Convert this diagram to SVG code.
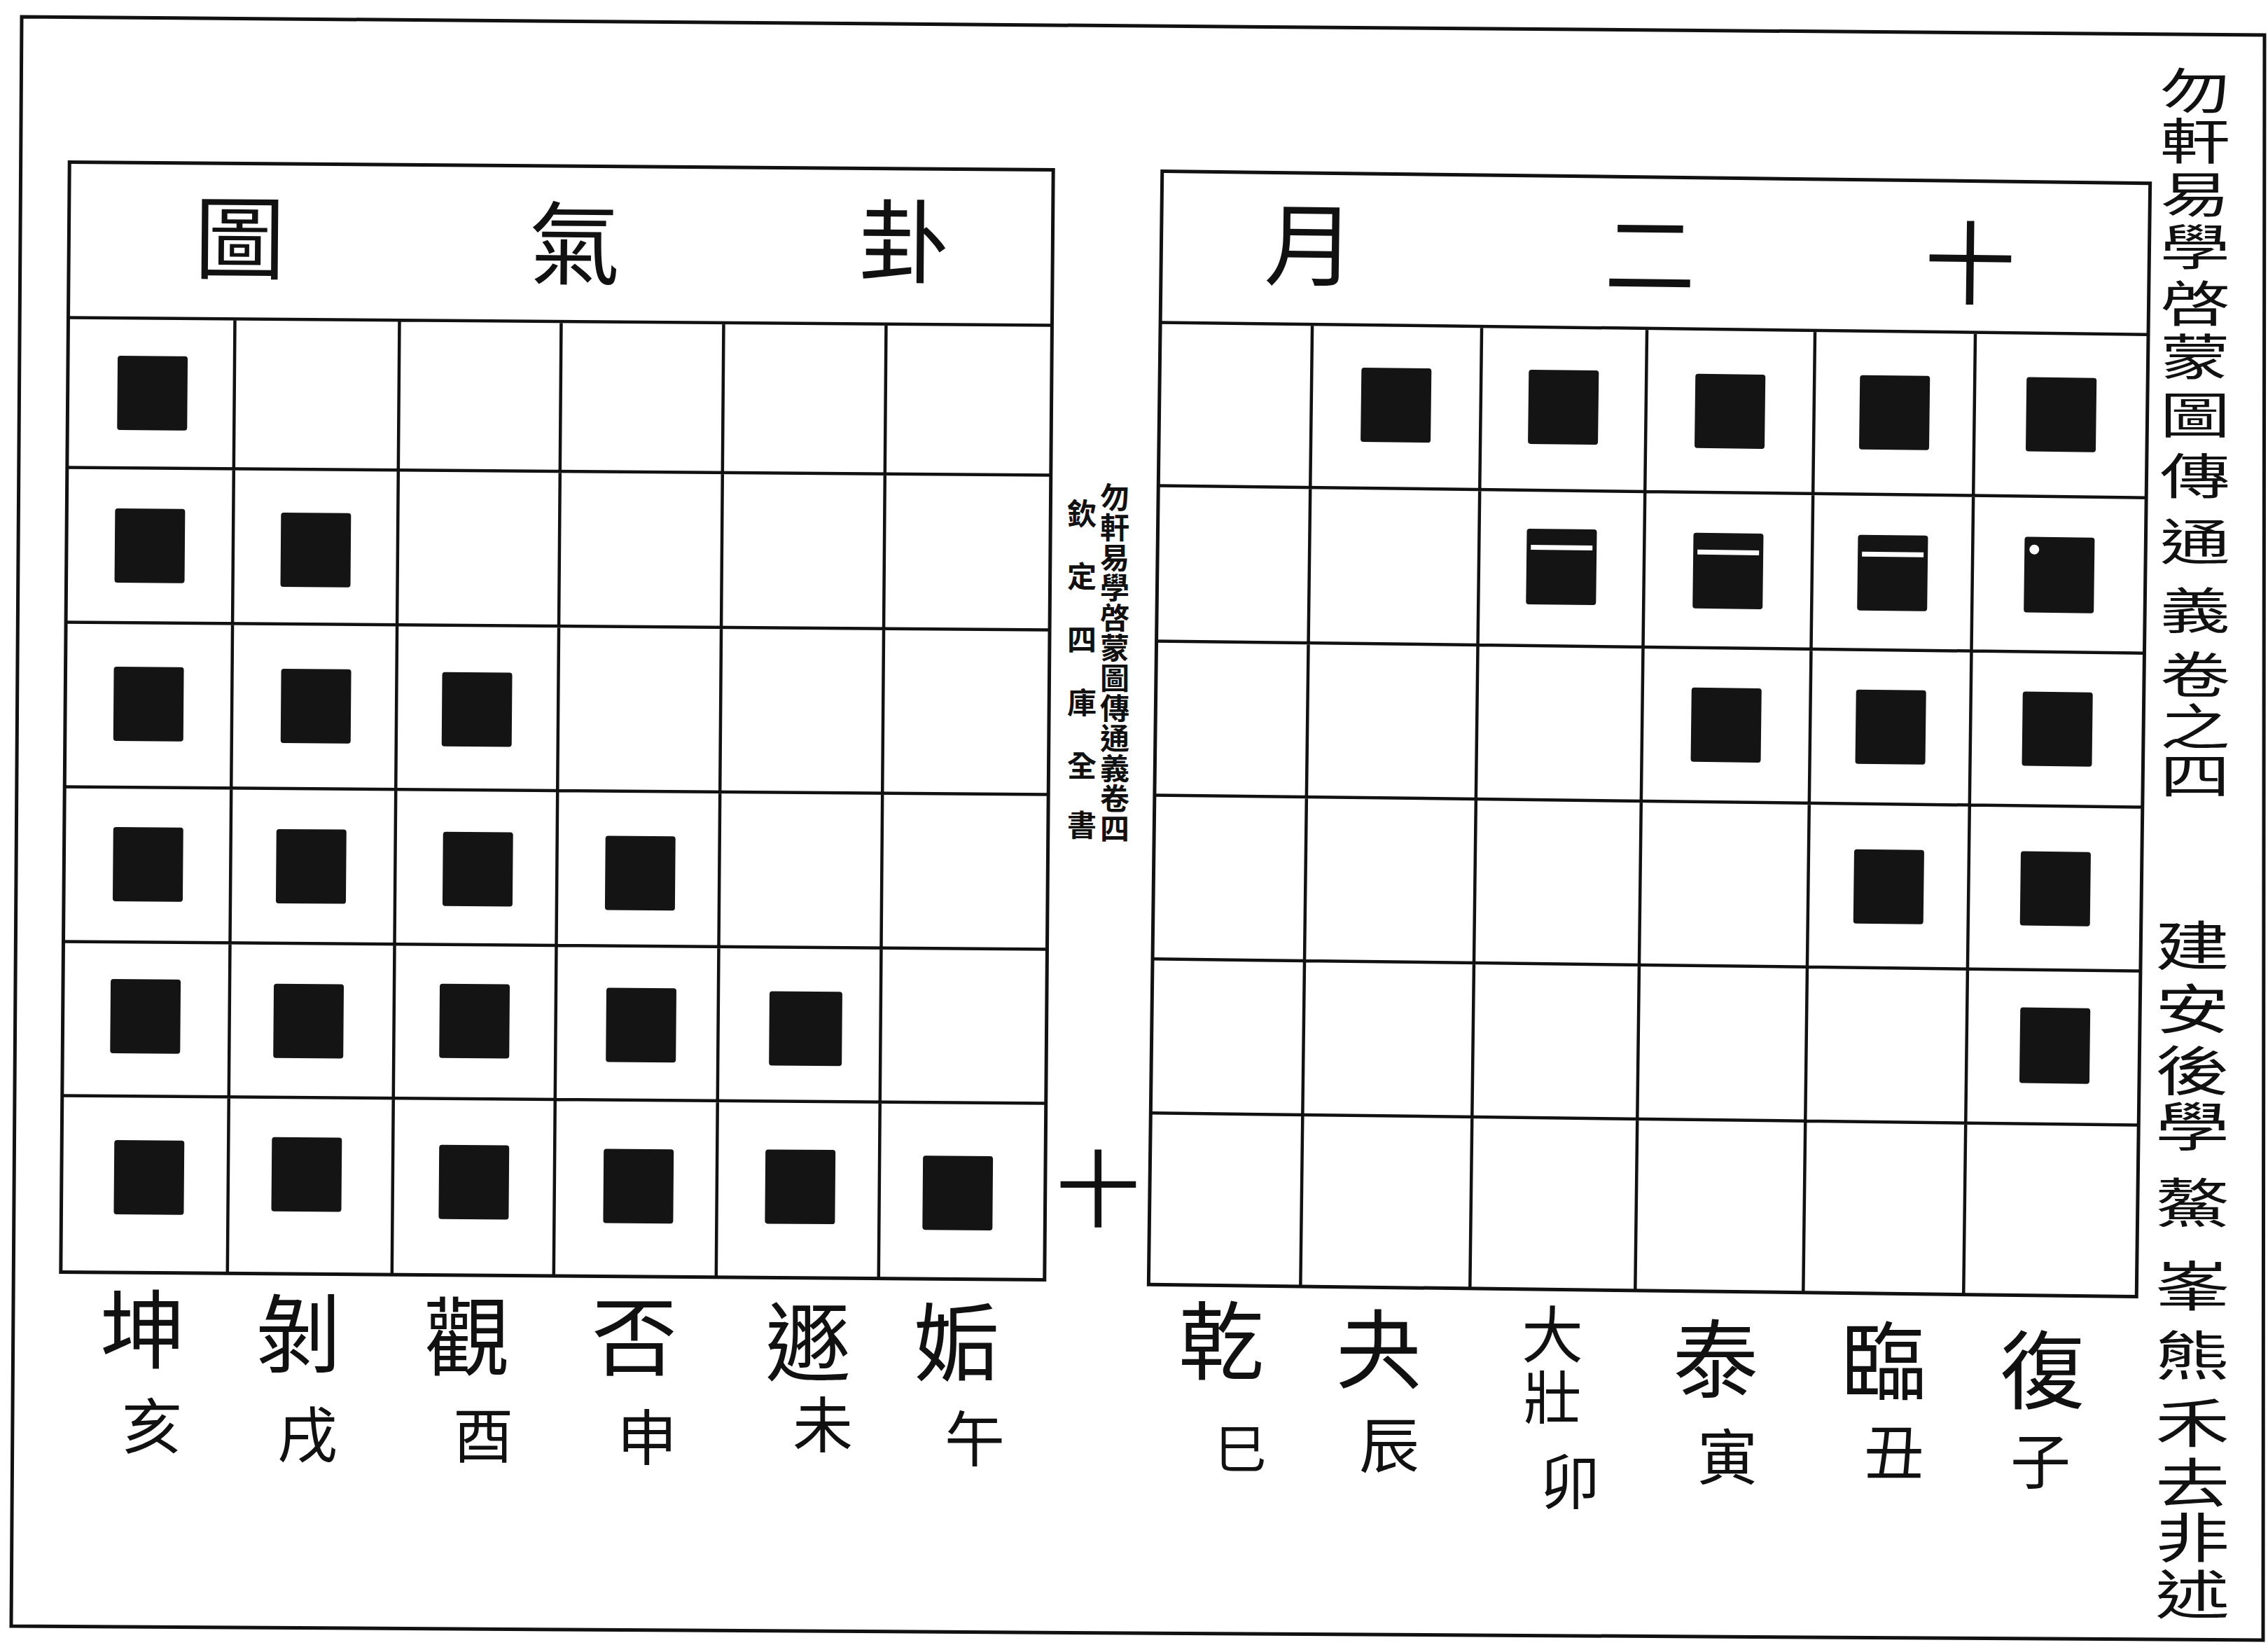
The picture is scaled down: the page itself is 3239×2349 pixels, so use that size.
<svg xmlns="http://www.w3.org/2000/svg" width="3239" height="2349" viewBox="0 0 3239 2349">
<style>
.ln{stroke:#111;stroke-width:4.5;fill:none}
.bd{stroke:#111;stroke-width:5;fill:none}
.sq{fill:#141414}
.w{fill:#fff}
.t{font-family:"Liberation Serif","Noto Sans CJK TC",serif;fill:#111;text-anchor:middle;dominant-baseline:central}
.h{font-size:130px}
.g1{font-size:122px}
.g2{font-size:86px}
.v{font-size:88px}
.c{font-size:42px;font-weight:bold}
</style>
<rect x="0" y="0" width="3239" height="2349" fill="#fff"/>
<g id="page-frame">
<path class="bd" d="M31,24 L3234,50 L3232,2342 L16,2322 Z"/>
</g>

<g id="left-table" transform="rotate(0.45 795 1030)">
<g id="left-grid">
<rect class="bd" x="93" y="237" width="1405" height="1585"/>
<path class="ln" d="M93,459H1498M93,673H1498M93,894H1498M93,1129H1498M93,1350H1498M93,1570H1498M331,459V1822M566,459V1822M797,459V1822M1029,459V1822M1261,459V1822"/>
</g>
<g id="left-title">
<text class="t h" x="337" y="348">圖</text>
<text class="t h" x="815" y="352">氣</text>
<text class="t h" x="1286" y="346">卦</text>
</g>
<g id="left-squares">
<rect class="sq" x="164" y="513" width="100" height="106" rx="4"/>
<rect class="sq" x="162" y="731" width="100" height="106" rx="4"/>
<rect class="sq" x="399" y="735" width="100" height="106" rx="4"/>
<rect class="sq" x="162" y="957" width="100" height="106" rx="4"/>
<rect class="sq" x="401" y="958" width="100" height="106" rx="4"/>
<rect class="sq" x="631" y="961" width="100" height="106" rx="4"/>
<rect class="sq" x="163" y="1186" width="100" height="106" rx="4"/>
<rect class="sq" x="396" y="1187" width="100" height="106" rx="4"/>
<rect class="sq" x="634" y="1189" width="100" height="106" rx="4"/>
<rect class="sq" x="866" y="1193" width="100" height="106" rx="4"/>
<rect class="sq" x="161" y="1403" width="100" height="106" rx="4"/>
<rect class="sq" x="394" y="1408" width="100" height="106" rx="4"/>
<rect class="sq" x="631" y="1406" width="100" height="106" rx="4"/>
<rect class="sq" x="869" y="1410" width="100" height="106" rx="4"/>
<rect class="sq" x="1102" y="1413" width="104" height="106" rx="4"/>
<rect class="sq" x="168" y="1633" width="100" height="106" rx="4"/>
<rect class="sq" x="393" y="1627" width="100" height="106" rx="4"/>
<rect class="sq" x="632" y="1636" width="100" height="106" rx="4"/>
<rect class="sq" x="867" y="1640" width="100" height="106" rx="4"/>
<rect class="sq" x="1098" y="1639" width="100" height="106" rx="4"/>
<rect class="sq" x="1323" y="1646" width="100" height="106" rx="4"/>
</g>
</g>

<g id="left-labels">
<text class="t g1" x="204" y="1902">坤</text>
<text class="t g1" x="426" y="1908">剝</text>
<text class="t g1" x="667" y="1912">觀</text>
<text class="t g1" x="906" y="1912">否</text>
<text class="t g1" x="1154" y="1920">遯</text>
<text class="t g1" x="1366" y="1920">姤</text>
<text class="t g2" x="217" y="2040">亥</text>
<text class="t g2" x="439" y="2052">戌</text>
<text class="t g2" x="690" y="2053">酉</text>
<text class="t g2" x="924" y="2056">申</text>
<text class="t g2" x="1175" y="2038">未</text>
<text class="t g2" x="1392" y="2058">午</text>
</g>

<g id="center-margin">
<text class="t c"><tspan x="1545" y="735">欽</tspan><tspan x="1545" y="825">定</tspan><tspan x="1545" y="915">四</tspan><tspan x="1545" y="1005">庫</tspan><tspan x="1545" y="1095">全</tspan><tspan x="1545" y="1180">書</tspan></text>
<text class="t c"><tspan x="1592" y="712">勿</tspan><tspan x="1592" y="755">軒</tspan><tspan x="1592" y="798">易</tspan><tspan x="1592" y="841">學</tspan><tspan x="1592" y="884">啓</tspan><tspan x="1592" y="927">蒙</tspan><tspan x="1592" y="970">圖</tspan><tspan x="1592" y="1013">傳</tspan><tspan x="1592" y="1056">通</tspan><tspan x="1592" y="1099">義</tspan><tspan x="1592" y="1142">卷</tspan><tspan x="1592" y="1185">四</tspan></text>
<text class="t" x="1568" y="1702" style="font-size:120px">十</text>
</g>

<g id="right-table" transform="rotate(0.7 2355 1048)">
<g id="right-grid">
<rect class="bd" x="1650" y="253" width="1411" height="1590"/>
<path class="ln" d="M1650,469H3061M1650,702H3061M1650,924H3061M1650,1144H3061M1650,1378H3061M1650,1598H3061M1867,469V1843M2109,469V1843M2345,469V1843M2585,469V1843M2814,469V1843"/>
</g>
<g id="right-title">
<text class="t h" x="1862" y="360">月</text>
<text class="t h" x="2348" y="368">二</text>
<text class="t h" x="2805" y="375">十</text>
</g>
<g id="right-squares">
<rect class="sq" x="1938" y="530" width="100" height="106" rx="4"/>
<rect class="sq" x="2177" y="530" width="100" height="106" rx="4"/>
<rect class="sq" x="2415" y="533" width="100" height="106" rx="4"/>
<rect class="sq" x="2650" y="532" width="100" height="106" rx="4"/>
<rect class="sq" x="2888" y="532" width="100" height="106" rx="4"/>
<rect class="sq" x="2177" y="757" width="100" height="108" rx="4"/>
<rect class="sq" x="2415" y="760" width="100" height="108" rx="4"/>
<rect class="sq" x="2650" y="760" width="100" height="108" rx="4"/>
<rect class="sq" x="2888" y="760" width="100" height="108" rx="4"/>
<rect class="w" x="2183" y="780" width="88" height="7"/>
<rect class="w" x="2421" y="784" width="88" height="7"/>
<rect class="w" x="2656" y="784" width="88" height="7"/>
<circle class="w" cx="2902" cy="778" r="7"/>
<rect class="sq" x="2415" y="981" width="100" height="106" rx="4"/>
<rect class="sq" x="2650" y="981" width="100" height="106" rx="4"/>
<rect class="sq" x="2888" y="981" width="100" height="106" rx="4"/>
<rect class="sq" x="2650" y="1209" width="100" height="106" rx="4"/>
<rect class="sq" x="2888" y="1209" width="100" height="106" rx="4"/>
<rect class="sq" x="2890" y="1432" width="100" height="108" rx="4"/>
</g>
</g>

<g id="right-labels">
<text class="t g1" x="1744" y="1918">乾</text>
<text class="t g1" x="1969" y="1930">夬</text>
<text class="t" x="2217" y="1908" style="font-size:88px">大</text>
<text class="t" x="2217" y="1998" style="font-size:82px">壯</text>
<text class="t g1" x="2450" y="1944">泰</text>
<text class="t g1" x="2690" y="1947">臨</text>
<text class="t g1" x="2917" y="1960">復</text>
<text class="t" x="1772" y="2071" style="font-size:74px">巳</text>
<text class="t g2" x="1984" y="2067">辰</text>
<text class="t g2" x="2242" y="2119">卯</text>
<text class="t g2" x="2467" y="2084">寅</text>
<text class="t g2" x="2705" y="2077">丑</text>
<text class="t g2" x="2914" y="2090">子</text>
</g>

<g id="book-title" transform="matrix(1.14,0,0,0.8,3135,0)">
<text class="t v"><tspan x="0" y="166">勿</tspan><tspan x="0" y="256">軒</tspan><tspan x="0" y="350">易</tspan><tspan x="0" y="444">學</tspan><tspan x="0" y="545">啓</tspan><tspan x="0" y="641">蒙</tspan><tspan x="0" y="744">圖</tspan><tspan x="0" y="853">傳</tspan><tspan x="0" y="971">通</tspan><tspan x="0" y="1093">義</tspan><tspan x="0" y="1208">卷</tspan><tspan x="0" y="1300">之</tspan><tspan x="0" y="1388">四</tspan></text>
</g>
<g id="author" transform="matrix(1.18,0,0,0.85,3131,0)">
<text class="t" style="font-size:90px"><tspan x="0" y="1592">建</tspan><tspan x="0" y="1698">安</tspan><tspan x="0" y="1802">後</tspan><tspan x="0" y="1896">學</tspan><tspan x="0" y="2024">鰲</tspan><tspan x="0" y="2164">峯</tspan><tspan x="0" y="2280">熊</tspan><tspan x="0" y="2393">禾</tspan><tspan x="0" y="2494">去</tspan><tspan x="0" y="2586">非</tspan><tspan x="0" y="2682">述</tspan></text>
</g>
</svg>
